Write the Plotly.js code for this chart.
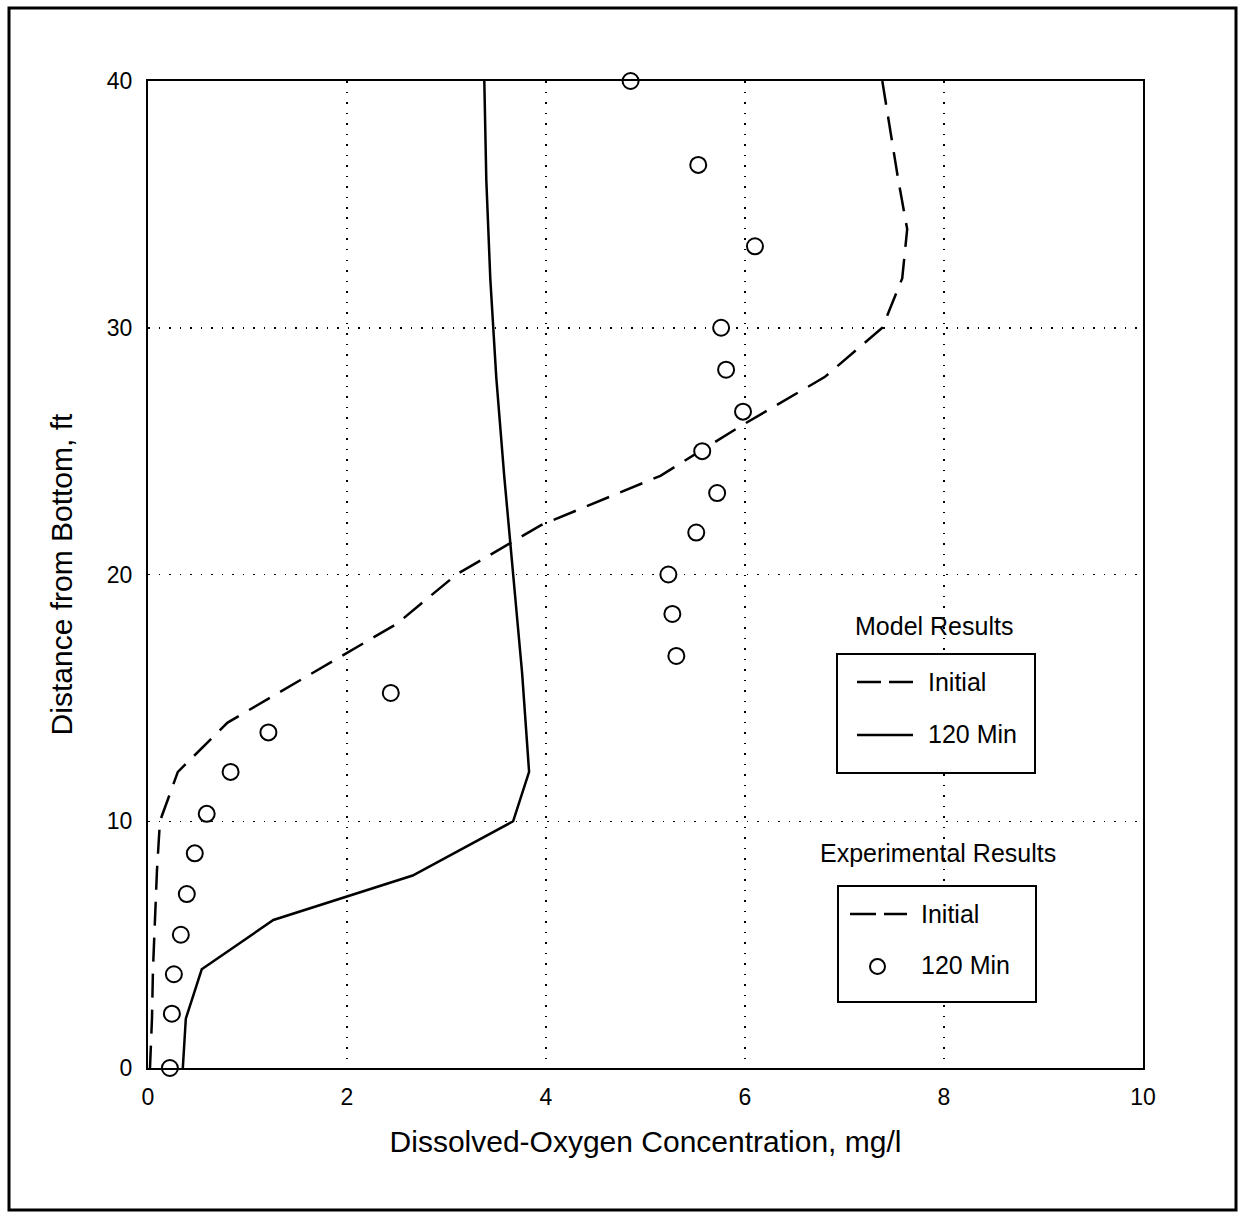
<!DOCTYPE html>
<html>
<head>
<meta charset="utf-8">
<script src="https://cdn.plot.ly/plotly-3.0.1.min.js"></script>
<style>
html,body{margin:0;padding:0;background:#fff;}
#chart{width:1244px;height:1217px;}
</style>
</head>
<body>
<div id="chart"></div>
<script>
// Model results, initial profile (dashed)
const initialDepth = [40, 38, 36, 34, 32, 30, 28, 26, 24, 22, 20, 18, 16, 14, 12, 10, 8, 6, 4, 2, 0];
const initialDO    = [7.38, 7.46, 7.54, 7.63, 7.58, 7.38, 6.8, 5.95, 5.15, 3.95, 3.1, 2.5, 1.65, 0.8, 0.3, 0.12, 0.09, 0.07, 0.05, 0.04, 0.02];

// Model results, 120 min (solid)
const model120Depth = [40, 36, 32, 28, 24, 20, 16, 12, 10, 7.8, 6, 4, 2, 0];
const model120DO    = [3.38, 3.40, 3.44, 3.50, 3.58, 3.67, 3.76, 3.83, 3.67, 2.66, 1.26, 0.54, 0.38, 0.35];

// Experimental results, 120 min (circles)
const expDepth = [40, 36.6, 33.3, 30, 28.3, 26.6, 25, 23.3, 21.7, 20, 18.4, 16.7, 15.2, 13.6, 12.0, 10.3, 8.7, 7.05, 5.4, 3.8, 2.2, 0];
const expDO    = [4.85, 5.53, 6.10, 5.76, 5.81, 5.98, 5.57, 5.72, 5.51, 5.23, 5.27, 5.31, 2.44, 1.21, 0.83, 0.59, 0.47, 0.39, 0.33, 0.26, 0.24, 0.22];

const xTicks = [0, 2, 4, 6, 8, 10];
const yTicks = [0, 10, 20, 30, 40];

const FONT = '"Liberation Sans", Arial, sans-serif';

const traces = [
  {x: initialDO, y: initialDepth, type: 'scatter', mode: 'lines',
   line: {color: '#000', width: 2.5, dash: '24px,12px'}, showlegend: false, hoverinfo: 'skip'},
  {x: model120DO, y: model120Depth, type: 'scatter', mode: 'lines',
   line: {color: '#000', width: 2.5}, showlegend: false, hoverinfo: 'skip'},
  {x: expDO, y: expDepth, type: 'scatter', mode: 'markers', cliponaxis: false,
   marker: {symbol: 'circle', size: 16, color: '#fff', line: {color: '#000', width: 2}},
   showlegend: false, hoverinfo: 'skip'}
];

// pixel -> paper helpers for legend decoration
const L = 148, R = 1143, T = 81, B = 1068;
const px = v => (v - L) / (R - L);
const py = v => (B - v) / (B - T);

const layout = {
  width: 1244, height: 1217,
  margin: {l: L, r: 1244 - R, t: T, b: 1217 - B},
  paper_bgcolor: '#fff', plot_bgcolor: '#fff',
  font: {family: FONT, color: '#000', size: 24},
  showlegend: false,
  xaxis: {
    range: [0, 10], tickvals: xTicks, ticktext: xTicks.map(String),
    showgrid: true, gridcolor: '#000', griddash: '1.5px,9px', gridwidth: 1.5,
    zeroline: false, showline: true, mirror: true, linecolor: '#000', linewidth: 2,
    ticks: '', ticklabelstandoff: 7,
    tickfont: {size: 23, family: FONT},
    title: {text: 'Dissolved-Oxygen Concentration, mg/l', font: {size: 30, family: FONT}, standoff: 22}
  },
  yaxis: {
    range: [0, 40], tickvals: yTicks, ticktext: yTicks.map(String),
    showgrid: true, gridcolor: '#000', griddash: '1.5px,9px', gridwidth: 1.5,
    zeroline: false, showline: true, mirror: true, linecolor: '#000', linewidth: 2,
    ticks: '', ticklabelstandoff: 9,
    tickfont: {size: 23, family: FONT},
    title: {text: 'Distance from Bottom, ft', font: {size: 30, family: FONT}, standoff: 25}
  },
  shapes: [
    // outer frame
    {type: 'rect', xref: 'paper', yref: 'paper', x0: px(9), x1: px(1236), y0: py(8), y1: py(1210),
     line: {color: '#000', width: 3}, layer: 'below'},
    // Model Results legend box
    {type: 'rect', xref: 'paper', yref: 'paper', x0: px(837), x1: px(1035), y0: py(654), y1: py(773),
     line: {color: '#000', width: 2}, fillcolor: '#fff'},
    {type: 'line', xref: 'paper', yref: 'paper', x0: px(857), x1: px(913), y0: py(682), y1: py(682),
     line: {color: '#000', width: 2.5, dash: '24px,8px'}},
    {type: 'line', xref: 'paper', yref: 'paper', x0: px(857), x1: px(913), y0: py(735), y1: py(735),
     line: {color: '#000', width: 2.5}},
    // Experimental Results legend box
    {type: 'rect', xref: 'paper', yref: 'paper', x0: px(838), x1: px(1036), y0: py(886), y1: py(1002),
     line: {color: '#000', width: 2}, fillcolor: '#fff'},
    {type: 'line', xref: 'paper', yref: 'paper', x0: px(850), x1: px(907), y0: py(914), y1: py(914),
     line: {color: '#000', width: 2.5, dash: '26px,8px'}},
    {type: 'circle', xref: 'paper', yref: 'paper', x0: px(870), x1: px(885), y0: py(959), y1: py(974),
     line: {color: '#000', width: 2}, fillcolor: '#fff'}
  ],
  annotations: [
    {xref: 'paper', yref: 'paper', x: px(934), y: py(626), text: 'Model Results', showarrow: false,
     xanchor: 'center', yanchor: 'middle', font: {size: 25, family: FONT}},
    {xref: 'paper', yref: 'paper', x: px(926), y: py(682), text: 'Initial', showarrow: false,
     xanchor: 'left', yanchor: 'middle', font: {size: 25, family: FONT}},
    {xref: 'paper', yref: 'paper', x: px(926), y: py(734), text: '120 Min', showarrow: false,
     xanchor: 'left', yanchor: 'middle', font: {size: 25, family: FONT}},
    {xref: 'paper', yref: 'paper', x: px(938), y: py(853), text: 'Experimental Results', showarrow: false,
     xanchor: 'center', yanchor: 'middle', font: {size: 25, family: FONT}},
    {xref: 'paper', yref: 'paper', x: px(919), y: py(914), text: 'Initial', showarrow: false,
     xanchor: 'left', yanchor: 'middle', font: {size: 25, family: FONT}},
    {xref: 'paper', yref: 'paper', x: px(919), y: py(965), text: '120 Min', showarrow: false,
     xanchor: 'left', yanchor: 'middle', font: {size: 25, family: FONT}}
  ]
};

Plotly.newPlot('chart', traces, layout, {displayModeBar: false, staticPlot: true});
</script>
</body>
</html>
